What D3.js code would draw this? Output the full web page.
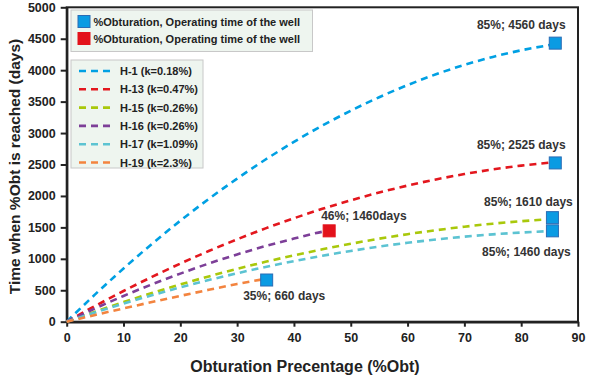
<!DOCTYPE html>
<html><head><meta charset="utf-8">
<script src="https://cdn.jsdelivr.net/npm/d3@7"></script>
<style>
body{margin:0;background:#fff;}
text{font-family:"Liberation Sans",Arial,sans-serif;}
</style></head>
<body><svg id="c" width="590" height="377"></svg>
<script>
const xTicks = [0,10,20,30,40,50,60,70,80,90];
const yTicks = [0,500,1000,1500,2000,2500,3000,3500,4000,4500,5000];
const wells = ["H-1 (k=0.18%)","H-13 (k=0.47%)","H-15 (k=0.26%)","H-16 (k=0.26%)","H-17 (k=1.09%)","H-19 (k=2.3%)"];
const colors = ["#00a0e3","#e3171e","#a9c80b","#7d3f98","#5cc3d2","#f3843f"];
const obtH1  = [0,5,10,15,20,25,30,35,40,45,50,55,60,65,70,75,80,85];
const timeH1 = [0,434,846,1237,1606,1952,2276,2579,2860,3119,3355,3570,3763,3935,4084,4211,4316,4399];
const obtH13  = [0,5,10,15,20,25,30,35,40,45,50,55,60,65,70,75,80,85];
const timeH13 = [0,250,488,712,924,1124,1310,1484,1645,1795,1930,2054,2165,2263,2348,2422,2482,2529];
const obtH15  = [0,5,10,15,20,25,30,35,40,45,50,55,60,65,70,75,80,85];
const timeH15 = [0,160,312,456,592,720,840,952,1055,1151,1239,1320,1392,1455,1511,1559,1598,1630];
const obtH16  = [0,5,10,15,20,25,30,35,40,45,46];
const timeH16 = [0,211,409,594,765,925,1070,1203,1322,1430,1445];
const obtH17  = [0,5,10,15,20,25,30,35,40,45,50,55,60,65,70,75,80,85];
const timeH17 = [0,148,288,420,546,662,770,871,963,1048,1125,1194,1255,1307,1352,1389,1418,1440];
const obtH19  = [0,5,10,15,20,25,30,33,35];
const timeH19 = [0,107,211,313,411,507,600,650,680];
const seriesObt  = [obtH1,obtH13,obtH15,obtH16,obtH17,obtH19];
const seriesTime = [timeH1,timeH13,timeH15,timeH16,timeH17,timeH19];
// end points (markers)
const markObt   = [86,86,85.5,85.5,35.2,46.2];
const markTime  = [4430,2525,1655,1445,663,1445];
const markKind  = ["blue","blue","blue","blue","blue","red"];
const markLabel = ["85%; 4560 days","85%; 2525 days","85%; 1610 days","85%; 1460 days","35%; 660 days","46%; 1460days"];
const legendMarks = ["%Obturation, Operating time of the well","%Obturation, Operating time of the well"];

const svg = d3.select("#c");
const m = {l:66.7, t:7.3, r:12, b:55.3};
const W = 590, H = 377;
const x = d3.scaleLinear().domain([0,90]).range([m.l, W-m.r]);
const y = d3.scaleLinear().domain([0,5000]).range([H-m.b, m.t]);

// frame
svg.append("rect").attr("x",x(0)).attr("y",y(5000)).attr("width",x(90)-x(0)).attr("height",y(0)-y(5000))
  .attr("fill","none").attr("stroke","#222").attr("stroke-width",2);

const xa = svg.append("g").attr("transform",`translate(0,${y(0)})`)
  .call(d3.axisBottom(x).tickValues(xTicks).tickFormat(d3.format("d")).tickSize(5).tickPadding(6).tickSizeOuter(0));
const ya = svg.append("g").attr("transform",`translate(${x(0)},0)`)
  .call(d3.axisLeft(y).tickValues(yTicks).tickFormat(d3.format("d")).tickSize(6).tickPadding(5).tickSizeOuter(0));
[xa,ya].forEach(g=>{
  g.select(".domain").attr("stroke","#222").attr("stroke-width",2.4);
  g.selectAll(".tick line").attr("stroke","#222").attr("stroke-width",2);
  g.selectAll(".tick text").attr("fill","#222").style("font-family","'Liberation Sans',Arial,sans-serif").style("font-size","12.5px").style("font-weight","bold");
});

svg.append("text").attr("x",305).attr("y",372).attr("text-anchor","middle")
  .style("font-size","16px").style("font-weight","bold").attr("fill","#222").text("Obturation Precentage (%Obt)");
svg.append("text").attr("transform",`translate(20,166.5) rotate(-90)`).attr("text-anchor","middle")
  .style("font-size","15.5px").style("font-weight","bold").attr("fill","#222").text("Time when %Obt is reached (days)");

// curves
const line = d3.line().x(d=>x(d[0])).y(d=>y(d[1])).curve(d3.curveMonotoneX);
seriesObt.forEach((ob,i)=>{
  const pts = ob.map((v,j)=>[v, seriesTime[i][j]]);
  svg.append("path").attr("d",line(pts)).attr("fill","none").attr("stroke",colors[i])
    .attr("stroke-width",2.6).attr("stroke-dasharray","7,5");
});

// markers
const fillOf = k => k==="red" ? "#e3121b" : "#0a9be3";
const strokeOf = k => k==="red" ? "#e3121b" : "#2a6cb5";
markObt.forEach((v,i)=>{
  svg.append("rect").attr("x",x(v)-6).attr("y",y(markTime[i])-6).attr("width",12).attr("height",12)
    .attr("fill",fillOf(markKind[i])).attr("stroke",strokeOf(markKind[i])).attr("stroke-width",1);
});
// marker labels
const lab = [[-34,-14,"middle"],[-34,-14,"middle"],[-24,-12,"middle"],[-26,25,"middle"],[-23.5,20,"start"],[-8,-11,"start"]];
markObt.forEach((v,i)=>{
  svg.append("text").attr("x",x(v)+lab[i][0]).attr("y",y(markTime[i])+lab[i][1]).attr("text-anchor",lab[i][2])
    .style("font-size","12px").style("font-weight","bold").attr("fill","#333").text(markLabel[i]);
});

// legend 1
svg.append("rect").attr("x",71).attr("y",10).attr("width",241.5).attr("height",41.5).attr("fill","#eef5ef").attr("stroke","#c8c8c8");
legendMarks.forEach((t,i)=>{
  const yy = 21.5 + i*17;
  svg.append("rect").attr("x",78).attr("y",yy-6).attr("width",12).attr("height",12)
    .attr("fill",i===0?"#0a9be3":"#e3121b").attr("stroke",i===0?"#2a6cb5":"#e3121b");
  svg.append("text").attr("x",93.5).attr("y",yy+4).style("font-size","11px").style("font-weight","600").attr("fill","#222").text(t);
});
// legend 2
svg.append("rect").attr("x",71).attr("y",60).attr("width",132).attr("height",108).attr("fill","#eef5ef").attr("stroke","#c8c8c8");
wells.forEach((t,i)=>{
  const yy = 71 + i*18.3;
  svg.append("line").attr("x1",79).attr("x2",111).attr("y1",yy).attr("y2",yy).attr("stroke",colors[i])
    .attr("stroke-width",2.6).attr("stroke-dasharray","7,5");
  svg.append("text").attr("x",120).attr("y",yy+4).style("font-size","11px").style("font-weight","600").attr("fill","#222").text(t);
});
</script></body></html>
